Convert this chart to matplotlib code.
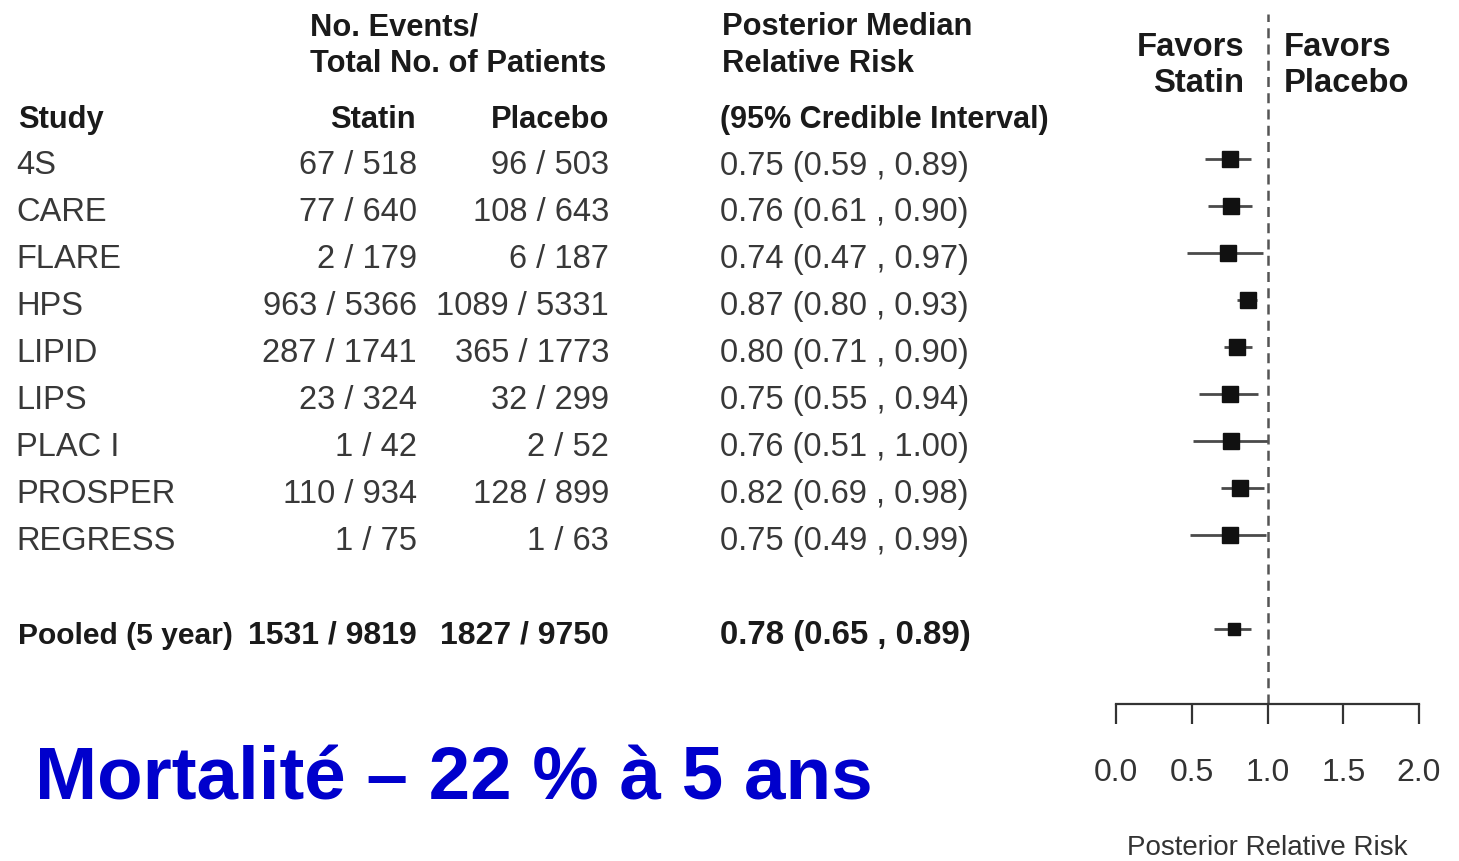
import matplotlib
matplotlib.use("Agg")
import matplotlib.pyplot as plt

# ---------------- data ----------------
studies = ["4S", "CARE", "FLARE", "HPS", "LIPID", "LIPS", "PLAC I", "PROSPER", "REGRESS"]
statin_events = [67, 77, 2, 963, 287, 23, 1, 110, 1]
statin_total = [518, 640, 179, 5366, 1741, 324, 42, 934, 75]
placebo_events = [96, 108, 6, 1089, 365, 32, 2, 128, 1]
placebo_total = [503, 643, 187, 5331, 1773, 299, 52, 899, 63]
rr_median = [0.75, 0.76, 0.74, 0.87, 0.80, 0.75, 0.76, 0.82, 0.75]
rr_low = [0.59, 0.61, 0.47, 0.80, 0.71, 0.55, 0.51, 0.69, 0.49]
rr_high = [0.89, 0.90, 0.97, 0.93, 0.90, 0.94, 1.00, 0.98, 0.99]

pooled_label = "Pooled (5 year)"
pooled_statin = (1531, 9819)
pooled_placebo = (1827, 9750)
pooled_rr = (0.78, 0.65, 0.89)

x_ticks = [0.0, 0.5, 1.0, 1.5, 2.0]
x_label = "Posterior Relative Risk"
title_text = "Mortalité – 22 % à 5 ans"

# ---------------- layout ----------------
W, H = 1459, 862
FONT = "Liberation Sans"
plt.rcParams["font.family"] = [FONT, "DejaVu Sans"]

fig = plt.figure(figsize=(W / 100, H / 100), dpi=100)
fig.patch.set_facecolor("white")

bg = fig.add_axes([0, 0, 1, 1])
bg.set_xlim(0, W)
bg.set_ylim(H, 0)
bg.axis("off")

row0, step = 160, 47          # pixel centre of first row, row spacing
pooled_idx = 10
text_dy = 6
body_fs = 23.5
head_fs = 22.2
fav_fs = 23.6
pool_fs = 23
head_col = "#1a1a1a"
body_col = "#383838"

# headers
bg.text(310, 27, "No. Events/", fontsize=head_fs, fontweight="bold", color=head_col, va="center", ha="left")
bg.text(310, 64, "Total No. of Patients", fontsize=head_fs, fontweight="bold", color=head_col, va="center", ha="left")
bg.text(18, 120, "Study", fontsize=head_fs, fontweight="bold", color=head_col, va="center", ha="left")
bg.text(416, 120, "Statin", fontsize=head_fs, fontweight="bold", color=head_col, va="center", ha="right")
bg.text(609, 120, "Placebo", fontsize=head_fs, fontweight="bold", color=head_col, va="center", ha="right")
bg.text(722, 27, "Posterior Median", fontsize=head_fs, fontweight="bold", color=head_col, va="center", ha="left")
bg.text(722, 64, "Relative Risk", fontsize=head_fs, fontweight="bold", color=head_col, va="center", ha="left")
bg.text(720, 120, "(95% Credible Interval)", fontsize=22, fontweight="bold", color=head_col, va="center", ha="left")

bg.text(1244, 47, "Favors", fontsize=fav_fs, fontweight="bold", color=head_col, va="center", ha="right")
bg.text(1244, 84, "Statin", fontsize=fav_fs, fontweight="bold", color=head_col, va="center", ha="right")
bg.text(1284, 47, "Favors", fontsize=fav_fs, fontweight="bold", color=head_col, va="center", ha="left")
bg.text(1284, 84, "Placebo", fontsize=fav_fs, fontweight="bold", color=head_col, va="center", ha="left")

# body rows
for i, name in enumerate(studies):
    y = row0 + step * i + text_dy
    bg.text(16, y, name, fontsize=body_fs, color=body_col, va="center", ha="left")
    bg.text(417, y, f"{statin_events[i]} / {statin_total[i]}", fontsize=body_fs, color=body_col, va="center", ha="right")
    bg.text(609, y, f"{placebo_events[i]} / {placebo_total[i]}", fontsize=body_fs, color=body_col, va="center", ha="right")
    bg.text(720, y, f"{rr_median[i]:.2f} ({rr_low[i]:.2f} , {rr_high[i]:.2f})", fontsize=body_fs, color=body_col, va="center", ha="left")

yp = row0 + step * pooled_idx + text_dy
bg.text(18, yp, pooled_label, fontsize=21.6, fontweight="bold", color=head_col, va="center", ha="left")
bg.text(417, yp, f"{pooled_statin[0]} / {pooled_statin[1]}", fontsize=pool_fs, fontweight="bold", color=head_col, va="center", ha="right")
bg.text(609, yp, f"{pooled_placebo[0]} / {pooled_placebo[1]}", fontsize=pool_fs, fontweight="bold", color=head_col, va="center", ha="right")
bg.text(720, yp, f"{pooled_rr[0]:.2f} ({pooled_rr[1]:.2f} , {pooled_rr[2]:.2f})", fontsize=23.8, fontweight="bold", color=head_col, va="center", ha="left")

# big title
bg.text(35, 800, title_text, fontsize=53.7, fontweight="bold", color="#0000cc", va="baseline", ha="left")

# ---------------- forest plot ----------------
x0px, x1px = 1116, 1419
ytop, ybot = 15, 705
ax = fig.add_axes([x0px / W, 1 - ybot / H, (x1px - x0px) / W, (ybot - ytop) / H])
ax.set_facecolor("none")
ax.set_xlim(0, 2)
ax.set_ylim((ybot - row0) / step, (ytop - row0) / step)

ys = list(range(len(studies)))
ax.hlines(ys, rr_low, rr_high, color="#4a4a4a", lw=2)
ax.plot(rr_median, ys, "s", color="#111111", markersize=11, ls="none")
ax.hlines([pooled_idx], [pooled_rr[1]], [pooled_rr[2]], color="#4a4a4a", lw=2)
ax.plot([pooled_rr[0]], [pooled_idx], "s", color="#111111", markersize=8.8, ls="none")

ax.axvline(1.0, color="#555555", lw=1.8, ls=(0, (4, 2.5)))

for s in ["top", "right", "left"]:
    ax.spines[s].set_visible(False)
ax.spines["bottom"].set_color("#333333")
ax.spines["bottom"].set_linewidth(1.6)
ax.set_yticks([])
ax.set_xticks(x_ticks)
ax.set_xticklabels([f"{t:.1f}" for t in x_ticks])
ax.tick_params(axis="x", direction="out", length=14.5, width=1.6, color="#333333",
               pad=23.5, labelsize=23, labelcolor="#333333")
ax.set_xlabel(x_label, fontsize=20, color="#333333", labelpad=34)

fig.savefig("out.png", dpi=100, facecolor="white")
